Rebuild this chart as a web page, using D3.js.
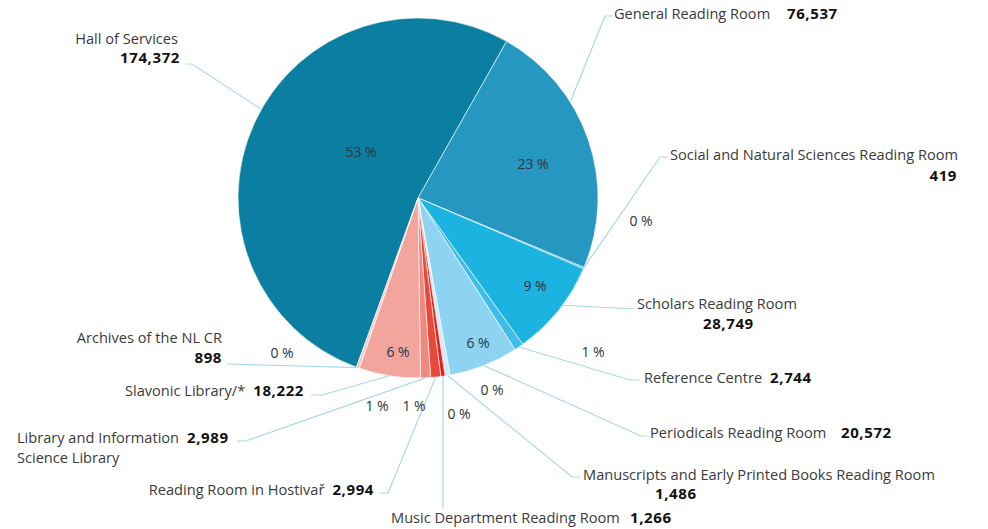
<!DOCTYPE html>
<html>
<head>
<meta charset="utf-8">
<script src="https://cdn.jsdelivr.net/npm/d3@7"></script>
<style>
  html, body { margin: 0; padding: 0; background: #fff; }
  svg { display: block; font-family: "Open Sans", "Noto Sans", sans-serif; }
  .name { font-size: 14.6px; fill: #3b3b3b; }
  .num { font-size: 15px; font-weight: 700; fill: #111; letter-spacing: 0.6px; }
  .pct { font-size: 14px; fill: #2b3640; }
  .leader { fill: none; stroke: #a9d7ea; stroke-width: 1.2; }
</style>
</head>
<body>
<div id="chart"></div>
<script>
// reading rooms, in pie order (clockwise)
const rooms = [
  'Hall of Services',
  'General Reading Room',
  'Social and Natural Sciences Reading Room',
  'Scholars Reading Room',
  'Reference Centre',
  'Periodicals Reading Room',
  'Manuscripts and Early Printed Books Reading Room',
  'Music Department Reading Room',
  'Reading Room in Hostivař',
  'Library and Information Science Library',
  'Slavonic Library/*',
  'Archives of the NL CR'
];
const visits = [174372, 76537, 419, 28749, 2744, 20572, 1486, 1266, 2994, 2989, 18222, 898];
const colors = ['#0b7fa2', '#2597c1', '#1aa6d6', '#1db3e1', '#3fbde9', '#8fd3f2',
                '#cdebf8', '#e3211b', '#e9493b', '#ee8a80', '#f3a49d', '#f7c9c4'];

const WIDTH = 988;
const HEIGHT = 529;
const CX = 418;
const CY = 198;
const RADIUS = 180;

// label layout: where each caption sits and how its leader bends
// lead = position of the leader's foot along the slice (0..1)
const layout = [
  { lines: [['Hall of Services', null]], x: 178, y: 44, anchor: 'end', numBelow: { x: 180, y: 63 }, lead: 0.525, path: [[192, 64], [186, 64]], pct: [361, 152] },
  { lines: [['General Reading Room', 'inline']], x: 614, y: 19, numX: 787, lead: 0.34, path: [[605, 16], [612, 16]], pct: [533, 164] },
  { lines: [['Social and Natural Sciences Reading Room', null]], x: 670, y: 160, numBelow: { x: 957, y: 181, anchor: 'end' }, lead: 0.5, path: [[660, 157], [668, 157]], pct: [641, 221] },
  { lines: [['Scholars Reading Room', null]], x: 637, y: 309, numBelow: { x: 703, y: 329 }, lead: 0.43, path: [[634, 309]], pct: [535, 286] },
  { lines: [['Reference Centre', 'inline']], x: 644, y: 383, lead: 0.5, path: [[630, 380], [640, 380]], pct: [593, 352] },
  { lines: [['Periodicals Reading Room', 'inline']], x: 650, y: 438, numX: 841, lead: 0.5, path: [[641, 436], [647, 436]], pct: [478, 343] },
  { lines: [['Manuscripts and Early Printed Books Reading Room', null]], x: 583, y: 480, numBelow: { x: 655, y: 499 }, lead: 0.5, path: [[572, 477], [580, 477]], pct: [492, 390] },
  { lines: [['Music Department Reading Room', 'inline']], x: 391, y: 523, numX: 630, lead: 0.5, path: [[443, 508]], pct: [459, 414] },
  { lines: [['Reading Room in Hostivař', 'inline']], x: 374, y: 495, anchor: 'end', lead: 0.5, path: [[388, 493], [380, 493]], pct: [414, 406] },
  { lines: [['Library and Information', 'inline'], ['Science Library', null]], x: 17, y: 443, numX: 187, lead: 0.5, path: [[246, 441], [237, 441]], pct: [377, 406] },
  { lines: [['Slavonic Library/*', 'inline']], x: 304, y: 396, anchor: 'end', lead: 0.5, path: [[322, 395], [311, 395]], pct: [398, 352] },
  { lines: [['Archives of the NL CR', null]], x: 222, y: 343, anchor: 'end', numBelow: { x: 222, y: 363, anchor: 'end' }, lead: 0.5, path: [[227, 364]], pct: [282, 353] }
];

const data = rooms.map((name, i) => ({ name, value: visits[i], color: colors[i], lay: layout[i] }));
const total = d3.sum(visits);
const fmt = d3.format(',');
const pctText = v => Math.round(v / total * 100) + ' %';

const svg = d3.select('#chart')
  .append('svg')
  .attr('width', WIDTH)
  .attr('height', HEIGHT);

const g = svg.append('g').attr('transform', `translate(${CX},${CY})`);

const startA = 200 * Math.PI / 180;
const pie = d3.pie()
  .value(d => d.value)
  .sort(null)
  .startAngle(startA)
  .endAngle(startA + 2 * Math.PI);

const arc = d3.arc().innerRadius(0).outerRadius(RADIUS);
const arcs = pie(data);

g.selectAll('path.slice')
  .data(arcs)
  .enter()
  .append('path')
  .attr('class', 'slice')
  .attr('d', arc)
  .attr('fill', d => d.data.color)
  .attr('stroke', '#fff')
  .attr('stroke-width', 0.6);

// leader lines: foot on the rim, then the bends from the layout
function foot(d) {
  const a = d.startAngle + (d.endAngle - d.startAngle) * d.data.lay.lead;
  return [CX + RADIUS * Math.sin(a), CY - RADIUS * Math.cos(a)];
}

svg.selectAll('path.leader')
  .data(arcs)
  .enter()
  .append('path')
  .attr('class', 'leader')
  .attr('d', d => d3.line()([foot(d)].concat(d.data.lay.path)));

// percent labels
svg.selectAll('text.pct')
  .data(arcs)
  .enter()
  .append('text')
  .attr('class', 'pct')
  .attr('x', d => d.data.lay.pct[0])
  .attr('y', d => d.data.lay.pct[1])
  .attr('dy', '0.35em')
  .attr('text-anchor', 'middle')
  .text(d => pctText(d.value));

// captions
arcs.forEach(d => {
  const L = d.data.lay;
  const anchor = L.anchor || 'start';
  L.lines.forEach((ln, k) => {
    const t = svg.append('text')
      .attr('x', L.x)
      .attr('y', L.y + k * 20)
      .attr('text-anchor', anchor);
    t.append('tspan').attr('class', 'name').text(ln[0]);
    if (ln[1] === 'inline') {
      const n = t.append('tspan').attr('class', 'num').text(fmt(d.value));
      if (L.numX !== undefined) n.attr('x', L.numX);
      else n.attr('dx', 8);
    }
  });
  if (L.numBelow) {
    svg.append('text')
      .attr('class', 'num')
      .attr('x', L.numBelow.x)
      .attr('y', L.numBelow.y)
      .attr('text-anchor', L.numBelow.anchor || (anchor === 'end' ? 'end' : 'start'))
      .text(fmt(d.value));
  }
});
</script>
</body>
</html>
